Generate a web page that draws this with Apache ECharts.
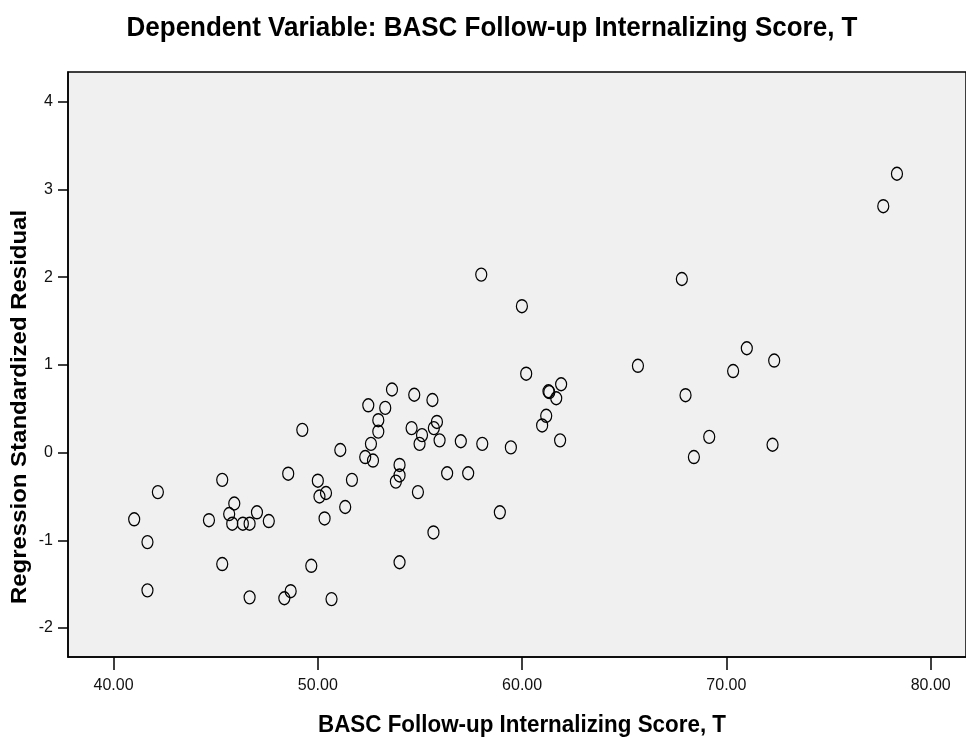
<!DOCTYPE html>
<html>
<head>
<meta charset="utf-8">
<script src="https://cdn.jsdelivr.net/npm/echarts@6/dist/echarts.min.js"></script>
<style>html,body{margin:0;padding:0;background:#fff;}#c{width:966px;height:737px;}</style>
</head>
<body>
<div id="c"></div>
<script>
const titleText = 'Dependent Variable: BASC Follow-up Internalizing Score, T';
const xTitle = 'BASC Follow-up Internalizing Score, T';
const yTitle = 'Regression Standardized Residual';
const xTicks = [40, 50, 60, 70, 80];
const yTicks = [-2, -1, 0, 1, 2, 3, 4];
const xValues = [41.01,41.66,41.66,42.17,44.67,45.32,45.32,45.66,45.81,45.91,46.33,46.66,46.66,47.02,47.60,48.36,48.55,48.67,49.24,49.68,50.00,50.08,50.40,50.33,50.67,51.10,51.34,51.67,52.32,52.47,52.60,52.70,52.96,52.96,53.30,53.63,53.82,54.00,54.00,54.00,54.59,54.72,54.90,54.98,55.10,55.61,55.66,55.68,55.83,55.96,56.33,57.00,57.36,58.00,58.05,58.91,59.45,59.99,60.20,60.98,61.18,61.29,61.33,61.67,61.86,61.91,65.67,67.82,68.00,68.41,69.16,70.33,71.00,72.26,72.34,77.68,78.35];
const yValues = [-0.76,-1.02,-1.57,-0.45,-0.77,-0.31,-1.27,-0.70,-0.81,-0.58,-0.81,-0.81,-1.65,-0.68,-0.78,-1.66,-0.24,-1.58,0.26,-1.29,-0.32,-0.50,-0.46,-0.75,-1.67,0.03,-0.62,-0.31,-0.05,0.54,0.10,-0.09,0.37,0.24,0.51,0.72,-0.33,-0.14,-0.26,-1.25,0.28,0.66,-0.45,0.10,0.20,0.60,-0.91,0.28,0.35,0.14,-0.235,0.13,-0.235,2.03,0.10,-0.68,0.06,1.67,0.90,0.31,0.42,0.70,0.69,0.62,0.14,0.78,0.99,1.98,0.655,-0.05,0.18,0.93,1.19,0.09,1.05,2.81,3.18];

const points = xValues.map((x, i) => [x, yValues[i]]);
const chart = echarts.init(document.getElementById('c'));
const font = 'Arial, "Liberation Sans", Helvetica, sans-serif';
chart.setOption({
  animation: false,
  backgroundColor: '#ffffff',
  grid: {
    left: 68, top: 72, right: -4, bottom: 80,
    show: true, backgroundColor: '#f0f0f0', borderColor: '#000', borderWidth: 1.5
  },
  xAxis: {
    type: 'value', min: 37.77, max: 81.73,
    splitLine: { show: false },
    axisLine: { show: true, onZero: false, lineStyle: { color: '#000', width: 1.5 } },
    axisTick: { show: true, length: 13, customValues: xTicks, lineStyle: { color: '#000', width: 1.5 } },
    axisLabel: { customValues: xTicks, margin: 21, fontFamily: font, fontSize: 16, color: '#111',
      formatter: v => v.toFixed(2) }
  },
  yAxis: {
    type: 'value', min: -2.33, max: 4.34,
    splitLine: { show: false },
    axisLine: { show: true, onZero: false, lineStyle: { color: '#000', width: 1.5 } },
    axisTick: { show: true, length: 10, customValues: yTicks, lineStyle: { color: '#000', width: 1.5 } },
    axisLabel: { customValues: yTicks, margin: 15, fontFamily: font, fontSize: 16, color: '#111',
      formatter: v => String(v) }
  },
  graphic: [
    { type: 'text', x: 492, y: 28, scaleY: 1.08,
      style: { text: titleText, font: 'bold 26px ' + font, fill: '#000', align: 'center', verticalAlign: 'middle' } },
    { type: 'text', x: 522, y: 725, scaleY: 1.08,
      style: { text: xTitle, font: 'bold 22.4px ' + font, fill: '#000', align: 'center', verticalAlign: 'middle' } },
    { type: 'text', x: 20, y: 407, rotation: Math.PI / 2, scaleX: 1.07,
      style: { text: yTitle, font: 'bold 22.4px ' + font, fill: '#000', align: 'center', verticalAlign: 'middle' } }
  ],
  series: [{
    type: 'scatter',
    data: points,
    symbol: 'circle',
    symbolSize: [11, 13],
    itemStyle: { color: 'rgba(0,0,0,0)', borderColor: '#000', borderWidth: 1.3, opacity: 1 },
    emphasis: { disabled: true }
  }]
});
</script>
</body>
</html>
